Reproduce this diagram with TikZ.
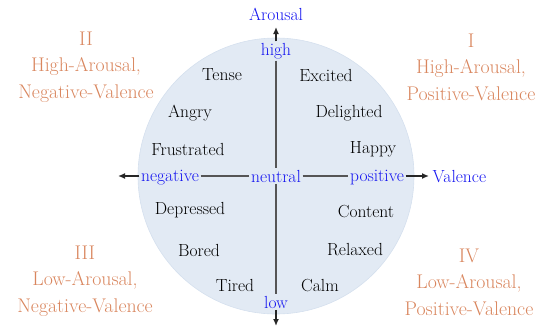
\documentclass[tikz,border=0pt]{standalone}
\usetikzlibrary{arrows.meta, positioning}
\definecolor{Quad}  {HTML}{D9865E}
\definecolor{Disk}  {HTML}{E2EAF4}
\definecolor{DiskE} {HTML}{D5E0EE}
\definecolor{AxBlue}{HTML}{1414F0}
\definecolor{AxGray}{HTML}{555555}
\tikzset{
  emo/.style={
    font=\fontsize{17.5}{18}\selectfont, text=black,
    inner sep=1pt,
  },
  axlbl/.style={
    font=\fontsize{17.5}{18}\selectfont, text=AxBlue,
    inner sep=1.5pt,
  },
  quad/.style={
    font=\fontsize{19.8}{26.5}\selectfont, text=Quad,
    align=center, inner sep=0pt,
  },
  axis/.style={
    line width=2pt, color=AxGray,
  },
  arr/.style={
    -{Latex[length=7pt,width=6pt]},
    line width=1.6pt, color=black!85,
  },
}

\begin{document}
\begin{tikzpicture}[x=1pt,y=-1pt]
    \useasboundingbox (0,0) rectangle (550,333);
    % disk
    \fill[Disk, draw=DiskE, line width=0.6pt] (276,176) circle (138);

    % axis labels
    \node[axlbl] (arousal) at (276,14)  {Arousal};
    \node[axlbl] (high)    at (276,51)  {high};
    \node[axlbl] (low)     at (276,302) {low};
    \node[axlbl] (neut)    at (276,176) {neutral};
    \node[axlbl, anchor=base] (neg) at (170,181) {negative};
    \node[axlbl, anchor=base] (pos) at (377,181) {positive};
    \node[axlbl, anchor=west] (valence) at (431,177) {Valence};
    \coordinate (topTip) at (276,27);
    \coordinate (botTip) at (276,326);
    \coordinate (lftTip) at (118,176);
    \coordinate (rgtTip) at (429,176);

    % axes
    \draw[axis] (high.south) -- (neut.north);
    \draw[axis] (neut.south) -- (low.north);
    \draw[axis] (neg.east |- neut) -- (neut.west);
    \draw[axis] (neut.east) -- (pos.west |- neut);
    \draw[arr] (high.north) -- (topTip);
    \draw[arr] (low.south) -- (botTip);
    \draw[arr] (neg.west |- neut) -- (lftTip);
    \draw[arr] (pos.east |- neut) -- (rgtTip);

    % emotions
    \node[emo] (tense)   at (222,75)  {Tense};
    \node[emo] (excited) at (326,75)  {Excited};
    \node[emo] (angry)   at (190,113) {Angry};
    \node[emo] (delight) at (349,113) {Delighted};
    \node[emo] (frust)   at (188,149) {Frustrated};
    \node[emo] (happy)   at (373,149) {Happy};
    \node[emo] (depr)    at (190,210) {Depressed};
    \node[emo] (content) at (366,212) {Content};
    \node[emo] (bored)   at (199,250) {Bored};
    \node[emo] (relax)   at (355,250) {Relaxed};
    \node[emo] (tired)   at (235,285) {Tired};
    \node[emo] (calm)    at (320,286) {Calm};

    % quadrants
    \node[quad] (q1) at (471,67)  {I\\High-Arousal,\\Positive-Valence};
    \node[quad] (q2) at (86,67)   {II\\High-Arousal,\\Negative-Valence};
    \node[quad] (q3) at (85,281)  {III\\Low-Arousal,\\Negative-Valence};
    \node[quad] (q4) at (469,282) {IV\\Low-Arousal,\\Positive-Valence};
  \end{tikzpicture}
\end{document}
